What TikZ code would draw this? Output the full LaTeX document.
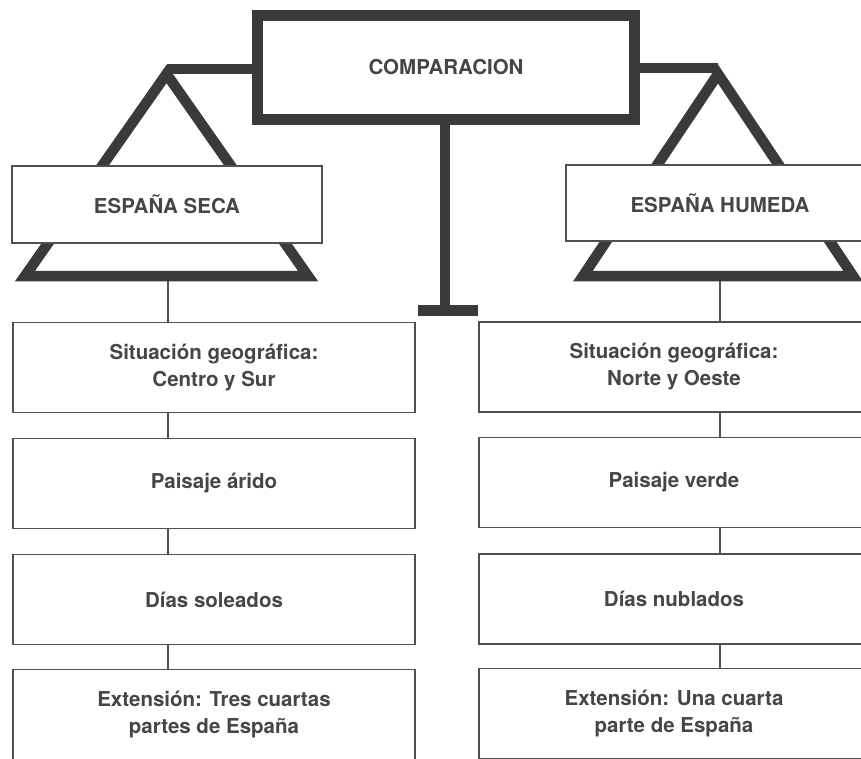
\documentclass[tikz,border=0pt]{standalone}
\usepackage{fontspec}
\setmainfont{TeX Gyre Heros}
\definecolor{framecol}{RGB}{58,58,58}
\definecolor{boxcol}{RGB}{80,80,80}
\definecolor{txtcol}{RGB}{70,70,70}
\begin{document}
\begin{tikzpicture}[x=1pt,y=-1pt,
  beam/.style={draw=framecol,line width=10.5pt,line join=miter},
  bar/.style={draw=framecol,line width=9.5pt},
  thickbox/.style={draw=framecol,line width=11pt,fill=white,minimum width=377pt,minimum height=104pt,
    font=\fontsize{20.5}{27}\selectfont\bfseries,text=txtcol,inner sep=0pt},
  box/.style={draw=boxcol,line width=1.8pt,fill=white,inner sep=0pt,align=center,
    font=\fontsize{20.5}{27}\selectfont\bfseries,text=txtcol},
  colbox/.style={box,minimum width=402pt,minimum height=90pt},
  rcolbox/.style={box,minimum width=390pt,minimum height=90pt},
  conn/.style={draw=boxcol,line width=1.8pt}]
\useasboundingbox (0,0) rectangle (861,758);
\clip (0,0) rectangle (861,758);
\fill[white] (0,0) rectangle (861,758);

% central box
\node[thickbox] (comp) at (446,67.5) {COMPARACION};

% left scale pan
\coordinate (lapex) at (166.5,74);
\coordinate (lbl) at (25,276);
\coordinate (lbr) at (308,276);
\coordinate (lbar) at (166.5,69);
\draw[beam] (lapex) -- (lbl) -- (lbr) -- cycle;
\draw[bar] (lbar -| comp.west) -- (lbar);

% right scale pan
\coordinate (rapex) at (718,74);
\coordinate (rbl) at (583,276);
\coordinate (rbr) at (853,276);
\coordinate (rbar) at (718,68);
\draw[beam] (rapex) -- (rbl) -- (rbr) -- cycle;
\draw[bar] (rbar -| comp.east) -- (rbar);

% stem and foot
\coordinate (foot) at (445,310.5);
\coordinate (footl) at (418,310.5);
\coordinate (footr) at (478,310.5);
\draw[draw=framecol,line width=10pt] (comp.south -| foot) -- (foot);
\draw[draw=framecol,line width=11pt] (footl) -- (footr);

% pan labels
\node[box,minimum width=310pt,minimum height=77pt] (seca) at (167,204.5) {ESPAÑA SECA};
\node[box,minimum width=308pt,minimum height=76pt] (humeda) at (720,203) {ESPAÑA HUMEDA};

% left column
\node[colbox] (l1) at (214,367.5) {Situación geográfica:\\Centro y Sur};
\node[colbox] (l2) at (214,483.5) {Paisaje árido};
\node[colbox] (l3) at (214,599.5) {Días soleados};
\node[colbox] (l4) at (214,714.5) {Extensión: Tres cuartas\\partes de España};

% right column
\node[rcolbox] (r1) at (674,367) {Situación geográfica:\\Norte y Oeste};
\node[rcolbox] (r2) at (674,482.5) {Paisaje verde};
\node[rcolbox] (r3) at (674,599) {Días nublados};
\node[rcolbox] (r4) at (674,713.5) {Extensión: Una cuarta\\parte de España};

% connectors
\coordinate (lc) at (168,281);
\coordinate (rc) at (720,281);
\draw[conn] (lc) -- (lc |- l1.north);
\draw[conn] (l1.south -| lc) -- (l2.north -| lc);
\draw[conn] (l2.south -| lc) -- (l3.north -| lc);
\draw[conn] (l3.south -| lc) -- (l4.north -| lc);
\draw[conn] (rc) -- (rc |- r1.north);
\draw[conn] (r1.south -| rc) -- (r2.north -| rc);
\draw[conn] (r2.south -| rc) -- (r3.north -| rc);
\draw[conn] (r3.south -| rc) -- (r4.north -| rc);
\end{tikzpicture}
\end{document}
